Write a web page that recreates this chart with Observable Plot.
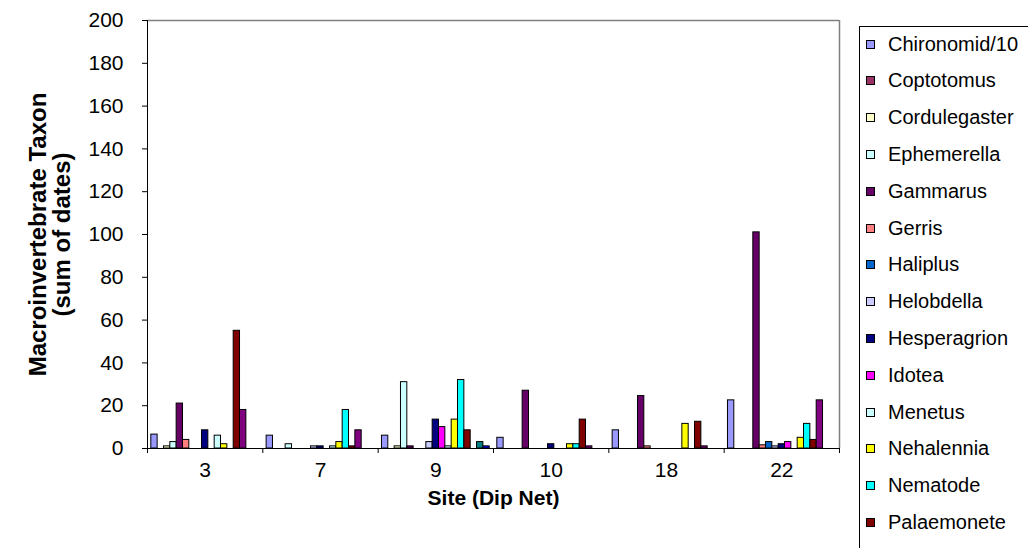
<!DOCTYPE html>
<html>
<head>
<meta charset="utf-8">
<script src="https://cdn.jsdelivr.net/npm/d3@7"></script>
<script src="https://cdn.jsdelivr.net/npm/@observablehq/plot@0.6"></script>
<style>
  html, body { margin: 0; padding: 0; background: #fff; overflow: hidden; }
  #chart { position: relative; width: 1028px; height: 548px; overflow: hidden;
           font-family: "Liberation Sans", Arial, sans-serif; }
  #chart svg { position: absolute; left: 0; top: 0; }
  #legend { position: absolute; left: 859px; top: 26px; width: 200px; height: 522px; overflow: hidden;
            border: 1px solid #000; border-bottom: none; box-sizing: border-box; background: #fff; }
  .item { position: absolute; left: 0; height: 24px; display: flex; align-items: center;
          font-size: 20px; white-space: nowrap; color: #000; }
  .sw { width: 7px; height: 7px; border: 1px solid #000; margin-left: 6px; margin-right: 13px; flex: none; }
</style>
</head>
<body>
<div id="chart"></div>
<script>
// Sampling sites (dip net)
const sites = ["3", "7", "9", "10", "18", "22"];

// Taxa, in series order
const taxa = [
  "Chironomid/10", "Coptotomus", "Cordulegaster", "Ephemerella", "Gammarus",
  "Gerris", "Haliplus", "Helobdella", "Hesperagrion", "Idotea", "Menetus",
  "Nehalennia", "Nematode", "Palaemonete", "Physa", "Planorbis", "Sialis"
];

const taxonColors = [
  "#9999FF", "#993366", "#FFFFCC", "#CCFFFF", "#660066",
  "#FF8080", "#0066CC", "#CCCCFF", "#000080", "#FF00FF", "#CCFFFF",
  "#FFFF00", "#00FFFF", "#800000", "#800080", "#008080", "#0000FF"
];

// Sum of dates per taxon at each site (same order as taxa)
const site3  = [6.5, 0, 1, 3,   21, 4,   0, 0, 8.5,  0,  6, 2,    0,  55,   18,   0, 0];
const site7  = [6,   0, 0, 2,    0, 0,   0, 1, 1,    0,  1, 3,    18, 1,    8.5,  0, 0];
const site9  = [6,   0, 1, 31,   1, 0,   0, 3, 13.5, 10, 1, 13.5, 32, 8.5,  0,    3, 1];
const site10 = [5,   0, 0, 0,   27, 0,   0, 0, 2,    0,  0, 2,    2,  13.5, 1,    0, 0];
const site18 = [8.5, 0, 0, 0, 24.5, 1,   0, 0, 0,    0,  0, 11.5, 0,  12.5, 1,    0, 0];
const site22 = [22.5,0, 0, 0,  101, 1.5, 3, 1, 2,    3,  0, 5,    11.5, 4,  22.5, 0, 0];

const yTicks = [0, 20, 40, 60, 80, 100, 120, 140, 160, 180, 200];

const xTitle = "Site (Dip Net)";
const yTitle = "Macroinvertebrate Taxon\n(sum of dates)";

const siteValues = [site3, site7, site9, site10, site18, site22];
const rows = sites.flatMap((site, i) =>
  taxa.map((taxon, j) => ({site, taxon, value: siteValues[i][j]}))
).filter(d => d.value > 0);

const W = 1028, H = 548;
const margins = {marginTop: 20, marginRight: 189, marginBottom: 100, marginLeft: 147};
const font = {fontFamily: "'Liberation Sans', Arial, sans-serif", fontSize: "21px", color: "#000", background: "transparent"};

// Clustered bars: one facet per site, one band per taxon
const bars = Plot.plot({
  width: W, height: H, ...margins,
  style: font,
  facet: {data: rows, x: "site"},
  fx: {domain: sites, padding: 0, round: false, tickSize: 0, tickPadding: 14, label: null},
  x: {domain: taxa, paddingInner: 0, paddingOuter: 0.6, round: false, axis: null},
  y: {domain: [0, 200], ticks: yTicks, tickSize: 5, tickPadding: 19, label: null},
  color: {domain: taxa, range: taxonColors},
  marks: [
    Plot.barY(rows, {x: "taxon", y: "value", fill: "taxon", stroke: "#000", strokeWidth: 1})
  ]
});

// Plot-area border, axis lines, category boundary ticks and axis titles
const frame = Plot.plot({
  width: W, height: H, ...margins,
  style: font,
  x: {domain: [0, sites.length], ticks: sites.length, tickSize: 5, tickFormat: () => "", label: null},
  y: {domain: [0, 200], axis: null},
  marks: [
    Plot.ruleY([200], {stroke: "#808080", strokeWidth: 1.5}),
    Plot.ruleX([sites.length], {stroke: "#808080", strokeWidth: 1.5}),
    Plot.ruleX([0], {stroke: "#000", strokeWidth: 1}),
    Plot.ruleY([0], {stroke: "#000", strokeWidth: 1}),
    Plot.text([xTitle], {text: d => d, frameAnchor: "bottom", dy: 56, textAnchor: "middle",
                         fontWeight: "bold", fontSize: 21}),
    Plot.text([yTitle], {text: d => d, frameAnchor: "left", dx: -97.5, rotate: -90, textAnchor: "middle",
                         fontWeight: "bold", fontSize: 24, lineHeight: 1.04})
  ]
});

const chart = document.getElementById("chart");
chart.append(bars, frame);

// Legend box runs past the bottom edge; only entries that fit inside the page are laid out
const legendTop = 26, rowStep = 36.8;
const legend = document.createElement("div");
legend.id = "legend";
taxa.forEach((t, i) => {
  const top = 17 + i * rowStep - 12;
  if (legendTop + top + 24 > H) return;
  const item = document.createElement("div");
  item.className = "item";
  item.style.top = top + "px";
  const sw = document.createElement("span");
  sw.className = "sw";
  sw.style.background = taxonColors[i];
  const label = document.createElement("span");
  label.textContent = t;
  item.append(sw, label);
  legend.append(item);
});
chart.append(legend);
</script>
</body>
</html>
